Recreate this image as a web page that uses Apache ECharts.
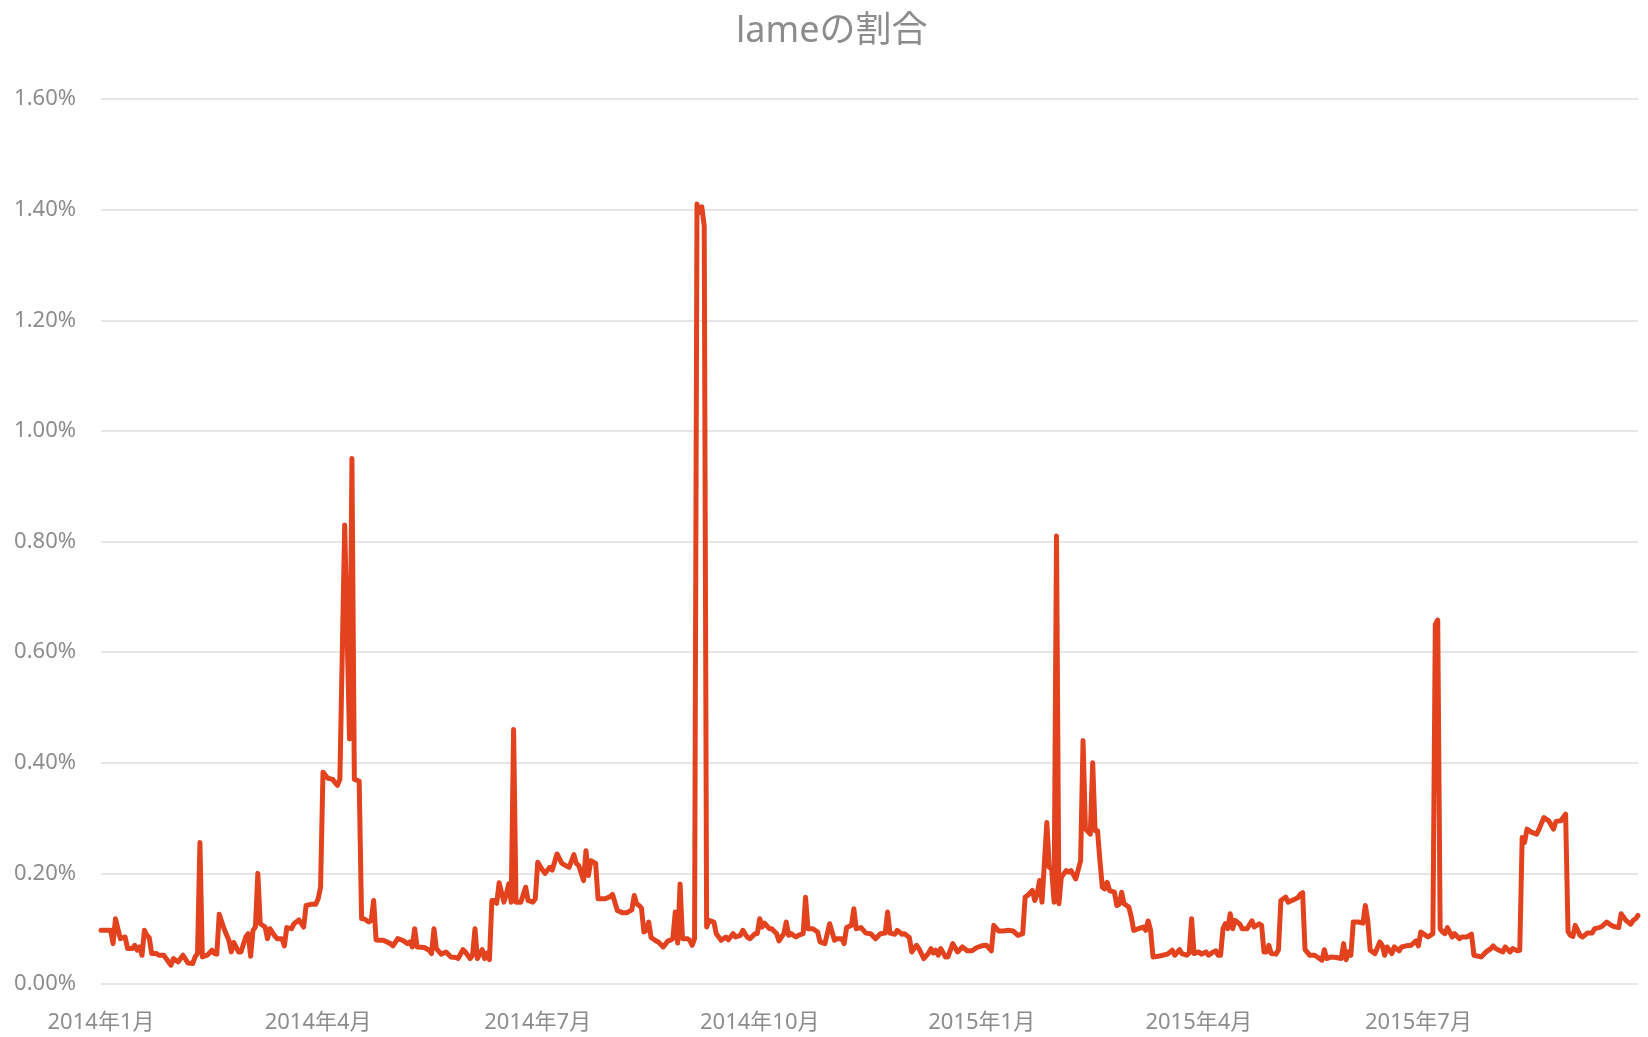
<!DOCTYPE html>
<html>
<head>
<meta charset="utf-8">
<title>lameの割合</title>
<script src="https://cdn.jsdelivr.net/npm/echarts@6/dist/echarts.min.js"></script>
<style>
  html, body { margin: 0; padding: 0; background: #fff; }
  #chart { width: 1648px; height: 1037px; }
</style>
</head>
<body>
<div id="chart"></div>
<script>
// タイトル・目盛り
const chartTitle = 'lameの割合'
const yTicks = [0, 0.2, 0.4, 0.6, 0.8, 1.0, 1.2, 1.4, 1.6]   // %
const xTickMonths = [0, 3, 6, 9]                               // 1月, 4月, 7月, 10月

// 日付（グラフから読み取った点）
const dates = [
  '2014-01-01','2014-01-03','2014-01-05','2014-01-06','2014-01-07','2014-01-09','2014-01-11','2014-01-12','2014-01-14','2014-01-15','2014-01-16','2014-01-17','2014-01-18','2014-01-19','2014-01-20','2014-01-21','2014-01-22','2014-01-24','2014-01-25','2014-01-27','2014-01-30','2014-01-31',
  '2014-02-02','2014-02-03','2014-02-04','2014-02-06','2014-02-08','2014-02-09','2014-02-10','2014-02-11','2014-02-12','2014-02-14','2014-02-16','2014-02-17','2014-02-18','2014-02-19','2014-02-21','2014-02-23','2014-02-24','2014-02-25','2014-02-27','2014-02-28',
  '2014-03-02','2014-03-03','2014-03-04','2014-03-05','2014-03-06','2014-03-07','2014-03-08','2014-03-10','2014-03-11','2014-03-12','2014-03-14','2014-03-15','2014-03-17','2014-03-18','2014-03-19','2014-03-21','2014-03-22','2014-03-24','2014-03-26','2014-03-27','2014-03-29','2014-03-31',
  '2014-04-01','2014-04-02','2014-04-03','2014-04-05','2014-04-07','2014-04-08','2014-04-09','2014-04-10','2014-04-12','2014-04-14','2014-04-15','2014-04-16','2014-04-18','2014-04-19','2014-04-20','2014-04-22','2014-04-23','2014-04-24','2014-04-25','2014-04-26','2014-04-28',
  '2014-05-01','2014-05-02','2014-05-04','2014-05-06','2014-05-08','2014-05-09','2014-05-10','2014-05-11','2014-05-12','2014-05-15','2014-05-17','2014-05-18','2014-05-19','2014-05-20','2014-05-22','2014-05-24','2014-05-26','2014-05-28','2014-05-29','2014-05-31',
  '2014-06-01','2014-06-03','2014-06-04','2014-06-05','2014-06-06','2014-06-08','2014-06-09','2014-06-10','2014-06-11','2014-06-12','2014-06-13','2014-06-14','2014-06-15','2014-06-17','2014-06-18','2014-06-19','2014-06-20','2014-06-21','2014-06-22','2014-06-24','2014-06-26','2014-06-27','2014-06-29','2014-06-30',
  '2014-07-01','2014-07-03','2014-07-04','2014-07-06','2014-07-07','2014-07-09','2014-07-11','2014-07-13','2014-07-14','2014-07-16','2014-07-17','2014-07-18','2014-07-20','2014-07-21','2014-07-22','2014-07-23','2014-07-25','2014-07-26','2014-07-29','2014-07-31',
  '2014-08-01','2014-08-03','2014-08-05','2014-08-07','2014-08-09','2014-08-10','2014-08-11','2014-08-12','2014-08-13','2014-08-14','2014-08-15','2014-08-16','2014-08-17','2014-08-19','2014-08-20','2014-08-22','2014-08-24','2014-08-25','2014-08-26','2014-08-27','2014-08-28','2014-08-29','2014-08-30',
  '2014-09-01','2014-09-02','2014-09-03','2014-09-04','2014-09-05','2014-09-06','2014-09-07','2014-09-08','2014-09-09','2014-09-10','2014-09-12','2014-09-13','2014-09-15','2014-09-17','2014-09-18','2014-09-20','2014-09-21','2014-09-23','2014-09-24','2014-09-26','2014-09-27','2014-09-29','2014-09-30',
  '2014-10-01','2014-10-02','2014-10-03','2014-10-05','2014-10-06','2014-10-08','2014-10-09','2014-10-11','2014-10-12','2014-10-13','2014-10-14','2014-10-16','2014-10-17','2014-10-19','2014-10-20','2014-10-21','2014-10-23','2014-10-25','2014-10-26','2014-10-28','2014-10-30',
  '2014-11-01','2014-11-02','2014-11-04','2014-11-05','2014-11-06','2014-11-08','2014-11-09','2014-11-10','2014-11-12','2014-11-14','2014-11-16','2014-11-18','2014-11-20','2014-11-22','2014-11-23','2014-11-24','2014-11-26','2014-11-27','2014-11-29','2014-11-30',
  '2014-12-02','2014-12-03','2014-12-05','2014-12-06','2014-12-08','2014-12-10','2014-12-11','2014-12-12','2014-12-13','2014-12-14','2014-12-15','2014-12-17','2014-12-18','2014-12-20','2014-12-22','2014-12-24','2014-12-26','2014-12-28','2014-12-30',
  '2015-01-01','2015-01-03','2015-01-05','2015-01-06','2015-01-08','2015-01-10','2015-01-12','2015-01-14','2015-01-16','2015-01-18','2015-01-19','2015-01-20','2015-01-22','2015-01-23','2015-01-24','2015-01-25','2015-01-26','2015-01-28','2015-01-29','2015-01-30','2015-01-31',
  '2015-02-01','2015-02-02','2015-02-03','2015-02-05','2015-02-06','2015-02-07','2015-02-09','2015-02-11','2015-02-12','2015-02-13','2015-02-15','2015-02-16','2015-02-17','2015-02-18','2015-02-19','2015-02-20','2015-02-21','2015-02-22','2015-02-23','2015-02-25','2015-02-26','2015-02-27','2015-02-28',
  '2015-03-01','2015-03-03','2015-03-04','2015-03-05','2015-03-07','2015-03-09','2015-03-10','2015-03-11','2015-03-12','2015-03-13','2015-03-15','2015-03-17','2015-03-19','2015-03-21','2015-03-22','2015-03-24','2015-03-25','2015-03-27','2015-03-28','2015-03-29','2015-03-30',
  '2015-04-01','2015-04-02','2015-04-04','2015-04-05','2015-04-07','2015-04-08','2015-04-09','2015-04-10','2015-04-11','2015-04-12','2015-04-13','2015-04-14','2015-04-15','2015-04-16','2015-04-18','2015-04-19','2015-04-21','2015-04-23','2015-04-24','2015-04-26','2015-04-27','2015-04-28','2015-04-29','2015-04-30',
  '2015-05-01','2015-05-03','2015-05-04','2015-05-05','2015-05-07','2015-05-08','2015-05-10','2015-05-12','2015-05-13','2015-05-14','2015-05-15','2015-05-17','2015-05-19','2015-05-22','2015-05-23','2015-05-24','2015-05-26','2015-05-28','2015-05-30','2015-05-31',
  '2015-06-01','2015-06-02','2015-06-03','2015-06-04','2015-06-06','2015-06-08','2015-06-09','2015-06-10','2015-06-11','2015-06-13','2015-06-15','2015-06-16','2015-06-17','2015-06-18','2015-06-20','2015-06-21','2015-06-23','2015-06-24','2015-06-26','2015-06-28','2015-06-30',
  '2015-07-01','2015-07-02','2015-07-04','2015-07-05','2015-07-07','2015-07-08','2015-07-09','2015-07-10','2015-07-11','2015-07-12','2015-07-13','2015-07-15','2015-07-16','2015-07-18','2015-07-19','2015-07-21','2015-07-23','2015-07-24','2015-07-27','2015-07-29','2015-07-31',
  '2015-08-01','2015-08-02','2015-08-03','2015-08-05','2015-08-06','2015-08-08','2015-08-09','2015-08-11','2015-08-12','2015-08-13','2015-08-14','2015-08-15','2015-08-17','2015-08-19','2015-08-20','2015-08-22','2015-08-24','2015-08-26','2015-08-27','2015-08-29','2015-08-31',
  '2015-09-01','2015-09-02','2015-09-03','2015-09-04','2015-09-06','2015-09-07','2015-09-09','2015-09-11','2015-09-12','2015-09-14','2015-09-15','2015-09-17','2015-09-19','2015-09-20','2015-09-22','2015-09-23','2015-09-25','2015-09-27','2015-09-28','2015-09-29','2015-09-30'
]

// lameの割合（%）
const lameRatio = [
  0.097,0.097,0.097,0.073,0.118,0.082,0.085,0.064,0.064,0.07,0.061,0.067,0.052,0.097,0.088,0.084,0.055,0.055,0.052,0.052,0.034,0.046,
  0.04,0.046,0.052,0.038,0.037,0.049,0.055,0.256,0.049,0.052,0.061,0.055,0.054,0.126,0.1,0.079,0.058,0.075,0.058,0.058,
  0.085,0.091,0.05,0.097,0.103,0.2,0.109,0.103,0.082,0.1,0.087,0.082,0.082,0.069,0.102,0.1,0.109,0.116,0.103,0.142,0.144,0.144,
  0.154,0.175,0.383,0.372,0.37,0.364,0.359,0.37,0.83,0.443,0.95,0.37,0.367,0.118,0.118,0.112,0.115,0.151,0.08,0.079,0.079,
  0.073,0.069,0.082,0.079,0.073,0.076,0.067,0.1,0.067,0.066,0.061,0.055,0.1,0.064,0.054,0.058,0.049,0.048,0.046,0.062,
  0.058,0.046,0.052,0.1,0.046,0.062,0.046,0.056,0.044,0.151,0.151,0.146,0.183,0.148,0.163,0.181,0.148,0.46,0.148,0.148,0.175,0.151,0.148,0.154,
  0.22,0.206,0.2,0.211,0.206,0.235,0.218,0.213,0.211,0.234,0.218,0.214,0.187,0.241,0.196,0.223,0.218,0.154,0.154,0.158,
  0.162,0.133,0.129,0.129,0.134,0.16,0.145,0.142,0.137,0.094,0.097,0.112,0.084,0.078,0.076,0.067,0.078,0.079,0.082,0.13,0.074,0.181,0.082,
  0.082,0.079,0.07,0.082,1.41,1.395,1.405,1.37,0.103,0.115,0.112,0.091,0.079,0.085,0.08,0.091,0.085,0.088,0.097,0.084,0.082,0.091,0.091,
  0.118,0.103,0.11,0.1,0.1,0.091,0.078,0.091,0.112,0.088,0.091,0.085,0.088,0.091,0.157,0.1,0.1,0.094,0.076,0.073,0.109,
  0.079,0.082,0.082,0.073,0.102,0.106,0.136,0.1,0.102,0.092,0.091,0.082,0.091,0.092,0.13,0.092,0.09,0.097,0.09,0.091,
  0.084,0.058,0.07,0.064,0.046,0.056,0.064,0.056,0.061,0.052,0.064,0.049,0.049,0.073,0.058,0.067,0.06,0.06,0.066,
  0.069,0.07,0.06,0.106,0.096,0.096,0.097,0.096,0.088,0.091,0.157,0.16,0.169,0.151,0.163,0.187,0.148,0.292,0.211,0.208,0.148,
  0.81,0.145,0.193,0.205,0.202,0.205,0.19,0.223,0.44,0.28,0.271,0.4,0.277,0.277,0.223,0.175,0.172,0.184,0.169,0.166,0.142,0.144,0.166,
  0.145,0.139,0.121,0.097,0.1,0.103,0.097,0.114,0.097,0.049,0.05,0.052,0.054,0.061,0.052,0.062,0.055,0.052,0.056,0.118,0.055,
  0.058,0.054,0.058,0.052,0.058,0.06,0.052,0.052,0.1,0.109,0.1,0.127,0.1,0.115,0.108,0.1,0.1,0.114,0.103,0.109,0.106,0.058,0.058,0.07,
  0.055,0.054,0.062,0.151,0.157,0.148,0.152,0.156,0.162,0.165,0.062,0.052,0.052,0.043,0.062,0.046,0.049,0.048,0.046,0.073,
  0.044,0.058,0.052,0.112,0.112,0.11,0.142,0.115,0.061,0.055,0.076,0.07,0.052,0.067,0.055,0.067,0.06,0.067,0.069,0.07,0.078,
  0.069,0.094,0.088,0.085,0.091,0.65,0.658,0.1,0.094,0.091,0.102,0.085,0.091,0.082,0.085,0.085,0.09,0.052,0.049,0.058,0.064,
  0.069,0.064,0.062,0.058,0.067,0.058,0.064,0.06,0.061,0.265,0.256,0.28,0.274,0.271,0.28,0.301,0.295,0.28,0.294,0.295,0.307,
  0.095,0.088,0.086,0.106,0.088,0.085,0.092,0.092,0.1,0.102,0.104,0.112,0.106,0.104,0.102,0.127,0.115,0.108,0.115,0.118,0.124
]

if (dates.length !== lameRatio.length) {
  throw new Error('dates / lameRatio length mismatch: ' + dates.length + ' vs ' + lameRatio.length)
}

const FONT = "'Noto Sans', 'Noto Sans CJK JP', sans-serif"
const GRAY = '#8c8c8c'
const DAY = 24 * 3600 * 1000

const chart = echarts.init(document.getElementById('chart'))

chart.setOption({
  animation: false,
  backgroundColor: '#fff',
  textStyle: { fontFamily: FONT },
  title: {
    text: chartTitle,
    left: 731,
    top: 9,
    textStyle: { color: GRAY, fontSize: 36, fontWeight: 'normal', fontFamily: FONT }
  },
  grid: { left: 101, right: 10, top: 99, bottom: 53 },
  xAxis: {
    type: 'time',
    min: dates[0],
    max: dates[dates.length - 1],
    splitNumber: 7,
    minInterval: 80 * DAY,
    axisLine: { show: false },
    axisTick: { show: false },
    splitLine: { show: false },
    axisLabel: {
      color: GRAY,
      fontSize: 22,
      fontFamily: FONT,
      margin: 28,
      hideOverlap: false,
      showMaxLabel: false,
      formatter: (value) => {
        const d = new Date(value)
        if (d.getDate() !== 1 || xTickMonths.indexOf(d.getMonth()) < 0) return ''
        return d.getFullYear() + '年' + (d.getMonth() + 1) + '月'
      }
    }
  },
  yAxis: {
    type: 'value',
    min: yTicks[0],
    max: yTicks[yTicks.length - 1],
    interval: yTicks[1] - yTicks[0],
    axisLine: { show: false },
    axisTick: { show: false },
    splitLine: { lineStyle: { color: '#dedede', width: 1.5 } },
    axisLabel: {
      color: GRAY,
      fontSize: 22,
      fontFamily: FONT,
      margin: 25,
      formatter: (v) => v.toFixed(2) + '%'
    }
  },
  series: [{
    name: chartTitle,
    type: 'line',
    data: dates.map((d, i) => [d, lameRatio[i]]),
    showSymbol: false,
    lineStyle: { color: '#e2431e', width: 5, join: 'round', cap: 'round' }
  }]
})
</script>
</body>
</html>
